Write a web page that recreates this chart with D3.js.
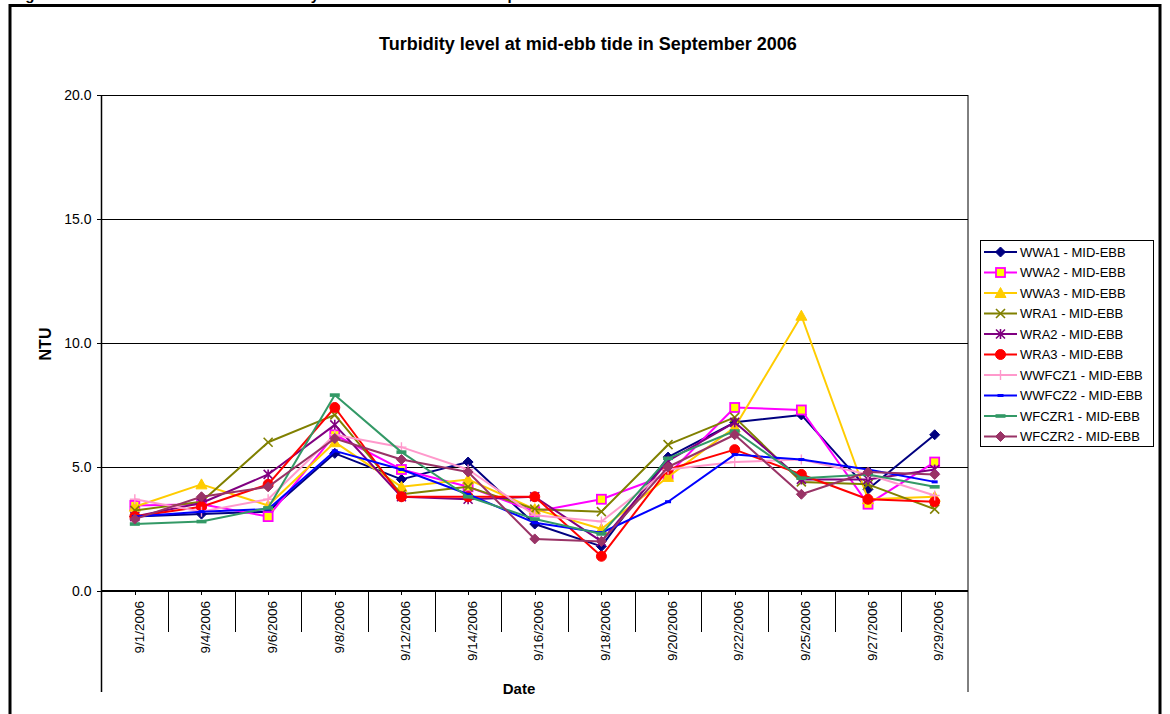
<!DOCTYPE html>
<html>
<head>
<meta charset="utf-8">
<script src="https://cdn.jsdelivr.net/npm/d3@7"></script>
<style>
  html, body { margin: 0; padding: 0; background: #fff; }
  svg { display: block; font-family: Arial, "Liberation Sans", sans-serif; }
</style>
</head>
<body>
<svg id="chart" width="1170" height="714"></svg>
<script>
// ---------------- DATA ----------------
const dates = ["9/1/2006","9/4/2006","9/6/2006","9/8/2006","9/12/2006","9/14/2006","9/16/2006",
               "9/18/2006","9/20/2006","9/22/2006","9/25/2006","9/27/2006","9/29/2006"];
const yTicks = [0, 5, 10, 15, 20];

const WWA1   = [3.0, 3.1, 3.2, 5.55, 4.5, 5.2, 2.7, 1.8, 5.4, 6.8, 7.1, 4.1, 6.3];
const WWA2   = [3.45, 3.5, 3.0, 6.3, 4.9, 4.2, 3.2, 3.7, 4.7, 7.4, 7.3, 3.5, 5.2];
const WWA3   = [3.4, 4.3, 3.45, 6.0, 4.2, 4.5, 3.3, 2.5, 4.6, 6.6, 11.1, 3.7, 3.8];
const WRA1   = [3.25, 3.6, 6.0, 7.1, 3.9, 4.2, 3.3, 3.2, 5.9, 7.0, 4.4, 4.3, 3.3];
const WRA2   = [3.0, 3.55, 4.7, 6.7, 3.8, 3.7, 3.8, 2.0, 5.25, 6.8, 4.5, 4.5, 4.9];
const WRA3   = [3.0, 3.4, 4.3, 7.4, 3.8, 3.8, 3.8, 1.4, 4.9, 5.7, 4.7, 3.7, 3.6];
const WWFCZ1 = [3.7, 3.2, 3.7, 6.3, 5.8, 4.9, 3.05, 2.8, 4.9, 5.2, 5.3, 4.7, 3.85];
const WWFCZ2 = [3.0, 3.2, 3.3, 5.65, 4.9, 3.9, 2.75, 2.35, 3.6, 5.5, 5.3, 4.9, 4.4];
const WFCZR1 = [2.7, 2.8, 3.35, 7.9, 5.6, 3.8, 2.9, 2.3, 5.35, 6.45, 4.55, 4.7, 4.2];
const WFCZR2 = [2.9, 3.8, 4.2, 6.15, 5.3, 4.8, 2.1, 2.0, 5.0, 6.3, 3.9, 4.8, 4.7];

const seriesNames = ["WWA1 - MID-EBB","WWA2 - MID-EBB","WWA3 - MID-EBB","WRA1 - MID-EBB","WRA2 - MID-EBB",
                     "WRA3 - MID-EBB","WWFCZ1 - MID-EBB","WWFCZ2 - MID-EBB","WFCZR1 - MID-EBB","WFCZR2 - MID-EBB"];
const seriesValues = [WWA1, WWA2, WWA3, WRA1, WRA2, WRA3, WWFCZ1, WWFCZ2, WFCZR1, WFCZR2];

// ---------------- STYLE ----------------
const styles = [
  {color:"#000080", marker:"diamond", fill:"#000080"},
  {color:"#FF00FF", marker:"square",  fill:"#FFFF00"},
  {color:"#FFCC00", marker:"triangle",fill:"#FFCC00"},
  {color:"#808000", marker:"x",       fill:"none"},
  {color:"#800080", marker:"star",    fill:"none"},
  {color:"#FF0000", marker:"circle",  fill:"#FF0000"},
  {color:"#FF99CC", marker:"plus",    fill:"none"},
  {color:"#0000FF", marker:"smallbar",fill:"#0000FF"},
  {color:"#339966", marker:"bar",     fill:"#339966"},
  {color:"#993366", marker:"diamond", fill:"#993366"}
];

const svg = d3.select("#chart");
const pLeft = 101.5, pRight = 968, pTop = 95, pBottom = 591;

// outer frame
svg.append("rect").attr("x", 10).attr("y", 5.5).attr("width", 1150).attr("height", 740)
  .attr("fill", "none").attr("stroke", "#000").attr("stroke-width", 3);

// page caption, cut off at the top edge as in the reference (only descenders visible)
svg.append("text").attr("x", 12).attr("y", -0.5).attr("font-size", 15).attr("font-weight", "bold")
  .text("Figure");
svg.append("text").attr("x", 256).attr("y", -0.5).attr("font-size", 15).attr("font-weight", "bold")
  .text("Turbidity level at mid-ebb tide in September 2006");

// title
svg.append("text").attr("x", 588).attr("y", 50).attr("text-anchor", "middle")
  .attr("font-size", 18).attr("font-weight", "bold")
  .text("Turbidity level at mid-ebb tide in September 2006");

// scales
const x = d3.scaleBand().domain(dates).range([pLeft, pRight]).paddingInner(0).paddingOuter(0);
const cx = d => x(d) + x.bandwidth() / 2;
const y = d3.scaleLinear().domain([0, 20]).range([pBottom, pTop]);

// gridlines
const grid = svg.append("g").attr("transform", `translate(${pLeft},0)`)
  .call(d3.axisLeft(y).tickValues(yTicks).tickSize(-(pRight - pLeft)).tickFormat(""));
grid.select(".domain").remove();
grid.selectAll("line").attr("stroke", "#000").attr("stroke-width", 1).attr("shape-rendering", "crispEdges");

// y axis
const yAxis = svg.append("g").attr("transform", `translate(${pLeft},0)`)
  .call(d3.axisLeft(y).tickValues(yTicks).tickSize(5).tickPadding(5).tickFormat(d3.format(".1f")));
yAxis.select(".domain").remove();
yAxis.selectAll("line").attr("stroke", "#000").attr("shape-rendering", "crispEdges");
yAxis.selectAll("text").attr("font-size", 14).attr("fill", "#000")
  .attr("font-family", "Arial, 'Liberation Sans', sans-serif");

// plot area side lines (extend through category label area)
svg.append("line").attr("x1", pLeft).attr("x2", pLeft).attr("y1", pTop).attr("y2", 692)
  .attr("stroke", "#000").attr("stroke-width", 1.5);
svg.append("line").attr("x1", pRight).attr("x2", pRight).attr("y1", pTop).attr("y2", 692)
  .attr("stroke", "#000").attr("stroke-width", 1);
// x axis line
svg.append("line").attr("x1", pLeft).attr("x2", pRight).attr("y1", pBottom).attr("y2", pBottom)
  .attr("stroke", "#000").attr("stroke-width", 2);

// category separators & center ticks
const xg = svg.append("g");
xg.selectAll("line.sep").data(dates.slice(1)).join("line").attr("class", "sep")
  .attr("x1", d => Math.round(x(d)) + 0.5).attr("x2", d => Math.round(x(d)) + 0.5)
  .attr("y1", pBottom).attr("y2", 632).attr("stroke", "#000").attr("stroke-width", 1);
xg.selectAll("line.tk").data(dates).join("line").attr("class", "tk")
  .attr("x1", d => Math.round(cx(d)) + 0.5).attr("x2", d => Math.round(cx(d)) + 0.5)
  .attr("y1", pBottom).attr("y2", pBottom + 4).attr("stroke", "#000").attr("stroke-width", 1);
xg.selectAll("text").data(dates).join("text")
  .attr("transform", d => `translate(${cx(d) + 4},601) rotate(-90)`)
  .attr("text-anchor", "end").attr("dy", "0.35em").attr("font-size", 13.5)
  .text(d => d);

// axis titles
svg.append("text").attr("transform", "translate(51,344) rotate(-90)").attr("text-anchor", "middle")
  .attr("font-size", 16).attr("font-weight", "bold").text("NTU");
svg.append("text").attr("x", 519).attr("y", 694).attr("text-anchor", "middle")
  .attr("font-size", 15).attr("font-weight", "bold").text("Date");

// marker drawing
function drawMarker(g, type, color, fill) {
  switch (type) {
    case "diamond":
      g.append("path").attr("d", "M0,-5L5,0L0,5L-5,0Z").attr("fill", fill).attr("stroke", color).attr("stroke-width", 1);
      break;
    case "square":
      g.append("rect").attr("x", -4.5).attr("y", -4.5).attr("width", 9).attr("height", 9)
        .attr("fill", fill).attr("stroke", color).attr("stroke-width", 1.8);
      break;
    case "triangle":
      g.append("path").attr("d", "M0,-5.5L5.5,4.5L-5.5,4.5Z").attr("fill", fill).attr("stroke", color).attr("stroke-width", 1);
      break;
    case "x":
      g.append("path").attr("d", "M-4.5,-4.5L4.5,4.5M-4.5,4.5L4.5,-4.5").attr("stroke", color).attr("stroke-width", 1.6).attr("fill", "none");
      break;
    case "star":
      g.append("path").attr("d", "M-4.5,-4.5L4.5,4.5M-4.5,4.5L4.5,-4.5M0,-5L0,5").attr("stroke", color).attr("stroke-width", 1.6).attr("fill", "none");
      break;
    case "circle":
      g.append("circle").attr("r", 5).attr("fill", fill).attr("stroke", color).attr("stroke-width", 1);
      break;
    case "plus":
      g.append("path").attr("d", "M-5,0L5,0M0,-5L0,5").attr("stroke", color).attr("stroke-width", 1.4).attr("fill", "none");
      break;
    case "smallbar":
      g.append("rect").attr("x", -3).attr("y", -1.5).attr("width", 6).attr("height", 3).attr("fill", fill);
      break;
    case "bar":
      g.append("rect").attr("x", -5).attr("y", -1.8).attr("width", 10).attr("height", 3.6).attr("fill", fill);
      break;
  }
}

// series
const line = d3.line().x((v, i) => cx(dates[i])).y(v => y(v));
seriesValues.forEach((vals, si) => {
  const st = styles[si];
  const g = svg.append("g");
  g.append("path").datum(vals).attr("d", line).attr("fill", "none")
    .attr("stroke", st.color).attr("stroke-width", 2).attr("stroke-linejoin", "round");
  vals.forEach((v, i) => {
    const mg = g.append("g").attr("transform", `translate(${cx(dates[i])},${y(v)})`);
    drawMarker(mg, st.marker, st.color, st.fill);
  });
});

// legend
const lg = svg.append("g");
lg.append("rect").attr("x", 980.5).attr("y", 240.5).attr("width", 173).attr("height", 206)
  .attr("fill", "#fff").attr("stroke", "#000").attr("stroke-width", 1);
seriesNames.forEach((name, i) => {
  const st = styles[i];
  const yy = 252 + i * 20.5;
  lg.append("line").attr("x1", 984).attr("x2", 1017).attr("y1", yy).attr("y2", yy)
    .attr("stroke", st.color).attr("stroke-width", 2);
  const mg = lg.append("g").attr("transform", `translate(1000.5,${yy})`);
  drawMarker(mg, st.marker, st.color, st.fill);
  lg.append("text").attr("x", 1020).attr("y", yy).attr("dy", "0.35em").attr("font-size", 13).text(name);
});
</script>
</body>
</html>
